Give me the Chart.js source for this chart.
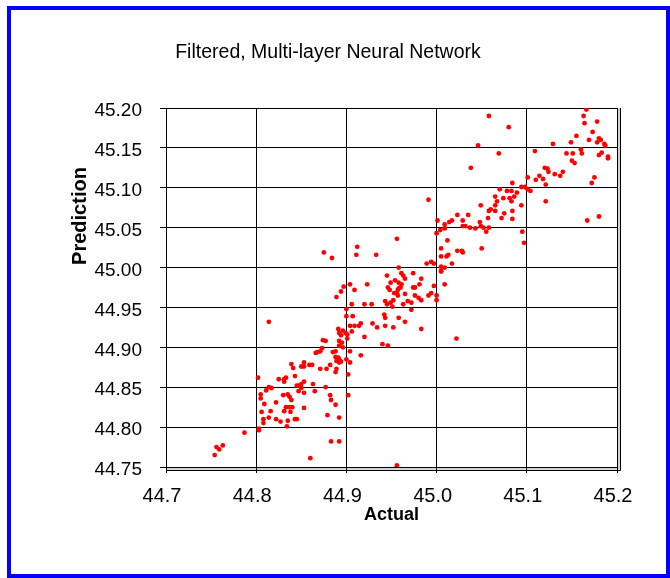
<!DOCTYPE html>
<html>
<head>
<meta charset="utf-8">
<title>Filtered, Multi-layer Neural Network</title>
<script src="https://cdn.jsdelivr.net/npm/chart.js@4.4.1/dist/chart.umd.min.js"></script>
<style>
  html, body { margin: 0; padding: 0; background: #fff; }
  #wrap { width: 670px; height: 578px; }
</style>
</head>
<body>
<div id="wrap"><canvas id="nnChart" width="670" height="578"></canvas></div>
<script>
// Axis ticks
const xTicks = [44.7, 44.8, 44.9, 45.0, 45.1, 45.2];
const yTicks = [44.75, 44.80, 44.85, 44.90, 44.95, 45.00, 45.05, 45.10, 45.15, 45.20];

// Actual values (x)
const actual = [
  44.875, 44.884, 44.897, 44.894, 44.889, 44.900, 44.900, 44.814, 44.891, 44.896,
  44.892, 44.899, 44.901, 44.894, 44.901, 44.874, 44.877, 44.892, 44.895, 44.892,
  44.896, 44.885, 44.888, 44.873, 44.871, 44.868, 44.866, 44.888, 44.891, 44.892,
  44.889, 44.892, 44.894, 44.900, 44.882, 44.878, 44.871, 44.889, 44.888, 44.839,
  44.841, 44.853, 44.850, 44.853, 44.859, 44.862, 44.802, 44.825, 44.831, 44.833,
  44.831, 44.843, 44.814, 44.811, 44.817, 44.805, 44.805, 44.809, 44.830, 44.835,
  44.837, 44.839, 44.847, 44.850, 44.853, 44.845, 44.850, 44.847, 44.853, 44.863,
  44.865, 44.877, 44.882, 44.883, 44.888, 44.822, 44.833, 44.837, 44.840, 44.831,
  44.838, 44.816, 44.806, 44.808, 44.808, 44.814, 44.822, 44.827, 44.835, 44.843,
  44.845, 44.834, 44.853, 44.879, 44.892, 44.787, 44.803, 44.803, 44.883, 44.892,
  44.763, 44.756, 44.759, 44.754, 44.860, 44.902, 44.902,
  44.956, 44.912, 44.911, 44.933, 45.005, 45.005, 45.012, 45.011, 45.013, 45.023,
  45.028, 45.029, 45.017, 44.989, 44.994, 44.997, 45.005, 45.005, 45.005, 45.009,
  45.009, 44.958, 44.961, 44.963, 44.965, 44.974, 44.945, 44.949, 44.954, 44.958,
  44.960, 44.961, 44.958, 44.957, 44.946, 44.948, 44.953, 44.956, 44.957, 44.965,
  44.974, 44.976, 44.981, 44.983, 44.976, 44.980, 44.983, 44.991, 44.994, 44.997,
  45.000, 45.000, 44.923, 44.909, 44.904, 44.943, 44.945, 44.949, 44.952, 44.951,
  44.963, 44.968, 44.972, 44.972, 44.920, 44.928, 44.906, 44.907, 44.942, 44.943,
  44.958, 44.965, 44.929, 44.934, 44.943, 44.952, 44.983, 44.916, 44.914, 44.909,
  44.904, 44.906, 44.920, 45.022, 44.940, 44.946, 44.904, 44.916, 44.904, 44.956,
  45.166, 45.163, 45.164, 45.178, 45.173, 45.155, 45.149, 45.129, 45.169, 45.180,
  45.182, 45.178, 45.186, 45.187, 45.160, 45.161, 45.144, 45.151, 45.150, 45.153,
  45.183, 45.180, 45.190, 45.190, 45.058, 45.080, 45.046, 45.069, 45.038, 45.109,
  45.120, 45.123, 45.124, 45.114, 45.110, 45.118, 45.131, 45.137, 45.140, 45.121,
  45.175, 45.172, 45.101, 45.084, 45.070, 45.078, 45.083, 45.089, 45.094, 45.098,
  45.101, 45.104, 45.065, 45.067, 45.074, 45.081, 45.086, 45.083, 45.094, 45.121,
  44.991, 45.049, 45.060, 45.058, 45.065, 45.065, 45.075, 45.072, 45.084, 45.084,
  45.057, 45.167, 45.180, 45.023, 45.035, 45.048, 45.049, 45.052, 45.058, 45.055,
  45.043, 45.037, 45.032, 45.029, 45.029, 45.017, 45.014, 45.001, 45.009, 45.009,
  45.004, 45.000, 45.095, 45.097, 45.050
];

// Predicted values (y), same order as actual
const predicted = [
  45.019, 45.012, 44.976, 44.970, 44.963, 44.948, 44.939, 44.932, 44.923, 44.921,
  44.918, 44.918, 44.916, 44.915, 44.911, 44.909, 44.908, 44.908, 44.906, 44.902,
  44.900, 44.894, 44.895, 44.899, 44.895, 44.894, 44.893, 44.888, 44.887, 44.885,
  44.883, 44.881, 44.882, 44.885, 44.878, 44.873, 44.873, 44.873, 44.869, 44.879,
  44.874, 44.881, 44.876, 44.876, 44.878, 44.878, 44.862, 44.860, 44.860, 44.862,
  44.857, 44.864, 44.850, 44.846, 44.849, 44.841, 44.836, 44.829, 44.840, 44.841,
  44.838, 44.834, 44.852, 44.854, 44.857, 44.852, 44.849, 44.845, 44.843, 44.854,
  44.845, 44.850, 44.840, 44.834, 44.828, 44.831, 44.825, 44.825, 44.825, 44.820,
  44.819, 44.820, 44.819, 44.810, 44.805, 44.812, 44.810, 44.807, 44.808, 44.810,
  44.810, 44.801, 44.824, 44.815, 44.812, 44.793, 44.798, 44.796, 44.782, 44.782,
  44.777, 44.775, 44.772, 44.765, 44.761, 44.866, 44.840,
  45.036, 45.026, 45.016, 45.016, 45.024, 45.014, 45.034, 45.014, 45.016, 45.021,
  45.021, 45.019, 45.005, 45.005, 45.007, 45.005, 45.001, 44.996, 44.995, 45.000,
  44.979, 45.000, 44.993, 44.990, 44.986, 44.993, 44.990, 44.981, 44.984, 44.981,
  44.975, 44.979, 44.974, 44.972, 44.975, 44.972, 44.968, 44.968, 44.965, 44.967,
  44.975, 44.975, 44.979, 44.986, 44.965, 44.962, 44.959, 44.965, 44.968, 44.977,
  44.965, 44.959, 44.979, 44.972, 44.979, 44.958, 44.954, 44.956, 44.959, 44.951,
  44.954, 44.958, 44.956, 44.947, 44.954, 44.954, 44.954, 44.939, 44.941, 44.937,
  44.937, 44.932, 44.930, 44.925, 44.927, 44.925, 44.923, 44.930, 44.927, 44.927,
  44.927, 44.920, 44.913, 44.911, 44.904, 44.902, 44.895, 44.890, 44.881, 44.752,
  45.198, 45.190, 45.181, 45.183, 45.170, 45.165, 45.157, 45.155, 45.160, 45.162,
  45.160, 45.157, 45.155, 45.153, 45.148, 45.143, 45.143, 45.143, 45.134, 45.131,
  45.144, 45.141, 45.139, 45.137, 45.190, 45.176, 45.153, 45.143, 45.125, 45.146,
  45.125, 45.124, 45.120, 45.115, 45.110, 45.111, 45.117, 45.115, 45.120, 45.104,
  45.113, 45.106, 45.113, 45.106, 45.098, 45.096, 45.096, 45.094, 45.101, 45.101,
  45.098, 45.096, 45.089, 45.083, 45.087, 45.087, 45.089, 45.083, 45.078, 45.083,
  45.085, 45.078, 45.073, 45.071, 45.078, 45.071, 45.068, 45.062, 45.071, 45.061,
  45.062, 45.059, 45.064, 45.066, 45.066, 45.057, 45.052, 45.050, 45.050, 45.045,
  45.049, 45.050, 45.052, 45.052, 45.059, 45.059, 45.057, 45.059, 45.054, 45.049,
  45.047, 45.043, 45.045, 45.031, 45.024
];

const FONT = '"Liberation Sans", Arial, sans-serif';

// White page, shaded plot edge and the blue outer frame
const framePlugin = {
  id: 'pageFrame',
  beforeDraw(chart) {
    const ctx = chart.ctx;
    const { left, right, top, bottom } = chart.chartArea;
    ctx.save();
    ctx.fillStyle = '#fff';
    ctx.fillRect(0, 0, chart.width, chart.height);
    // second edge line on the right and bottom of the plot, Excel style
    ctx.fillStyle = '#d4d4d4';
    ctx.fillRect(left, bottom + 1, right - left + 3, 2);
    ctx.fillRect(right + 1, top, 2, bottom - top + 3);
    ctx.strokeStyle = '#000';
    ctx.lineWidth = 1;
    ctx.beginPath();
    ctx.moveTo(left, bottom + 3.5);
    ctx.lineTo(right + 3.5, bottom + 3.5);
    ctx.moveTo(right + 3.5, top);
    ctx.lineTo(right + 3.5, bottom + 3.5);
    ctx.stroke();
    ctx.restore();
  },
  afterDraw(chart) {
    const ctx = chart.ctx;
    ctx.save();
    ctx.strokeStyle = '#0000FF';
    ctx.lineWidth = 4;
    ctx.strokeRect(9, 8, 659, 568);
    ctx.restore();
  }
};

// Y axis title sits above the axis middle, like the original
const predictionLabel = {
  id: 'predictionLabel',
  afterDraw(chart) {
    const ctx = chart.ctx;
    ctx.save();
    ctx.translate(80, 216);
    ctx.rotate(-Math.PI / 2);
    ctx.font = 'bold 20px ' + FONT;
    ctx.fillStyle = '#000';
    ctx.textAlign = 'center';
    ctx.textBaseline = 'middle';
    ctx.fillText('Prediction', 0, 0);
    ctx.restore();
  }
};

Chart.defaults.font.family = FONT;
Chart.defaults.font.size = 19;
Chart.defaults.color = '#000';

new Chart(document.getElementById('nnChart'), {
  type: 'scatter',
  data: {
    datasets: [{
      label: 'Prediction',
      data: actual.map((a, i) => ({ x: a, y: predicted[i] })),
      backgroundColor: '#FF0000',
      borderWidth: 0,
      pointRadius: 2.4,
      pointHoverRadius: 2.4
    }]
  },
  options: {
    responsive: false,
    animation: false,
    layout: {
      padding: { left: 39, right: 53, top: 0, bottom: 20 }
    },
    plugins: {
      legend: { display: false },
      tooltip: { enabled: false },
      title: {
        display: true,
        text: 'Filtered, Multi-layer Neural Network',
        color: '#000',
        font: { size: 19.5, weight: 'normal' },
        padding: { top: 40.6, bottom: 44 }
      }
    },
    scales: {
      x: {
        type: 'linear',
        min: 44.7,
        max: 45.2,
        afterBuildTicks: (scale) => { scale.ticks = xTicks.map(v => ({ value: v })); },
        afterFit: (scale) => { scale.height = 91; },
        grid: { color: '#000', lineWidth: 1, tickLength: 6 },
        border: { color: '#000', width: 1 },
        ticks: {
          padding: 11,
          labelOffset: -4,
          maxRotation: 0,
          font: { size: 20 },
          callback: (v) => Number(v).toFixed(1)
        },
        title: {
          display: true,
          text: 'Actual',
          color: '#000',
          font: { size: 18, weight: 'bold' },
          padding: { top: 0, bottom: 32.2 }
        }
      },
      y: {
        type: 'linear',
        min: 44.75,
        max: 45.20,
        afterBuildTicks: (scale) => { scale.ticks = yTicks.map(v => ({ value: v })); },
        afterFit: (scale) => { scale.width = 127; },
        grid: { color: '#000', lineWidth: 1, tickLength: 6 },
        border: { color: '#000', width: 1 },
        ticks: {
          padding: 18,
          labelOffset: 3,
          callback: (v) => Number(v).toFixed(2)
        }
      }
    }
  },
  plugins: [framePlugin, predictionLabel]
});
</script>
</body>
</html>
